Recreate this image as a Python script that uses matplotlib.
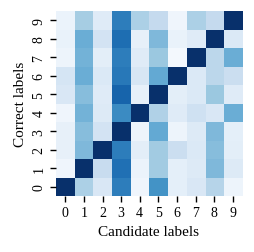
import numpy as np
import matplotlib.pyplot as plt

plt.rcParams['font.family'] = ['Liberation Serif', 'DejaVu Serif']

labels = [str(i) for i in range(10)]

# rows = correct label 0..9, columns = candidate label 0..9
row0 = [1.00, 0.33, 0.15, 0.70, 0.04, 0.62, 0.09, 0.15, 0.30, 0.05]
row1 = [0.04, 1.00, 0.24, 0.75, 0.06, 0.36, 0.09, 0.13, 0.45, 0.13]
row2 = [0.08, 0.45, 1.00, 0.70, 0.10, 0.36, 0.22, 0.14, 0.43, 0.10]
row3 = [0.08, 0.43, 0.18, 1.00, 0.05, 0.52, 0.05, 0.13, 0.45, 0.09]
row4 = [0.04, 0.48, 0.13, 0.65, 1.00, 0.32, 0.12, 0.20, 0.15, 0.50]
row5 = [0.15, 0.43, 0.12, 0.80, 0.08, 1.00, 0.10, 0.14, 0.38, 0.12]
row6 = [0.17, 0.50, 0.14, 0.72, 0.16, 0.52, 1.00, 0.14, 0.28, 0.22]
row7 = [0.05, 0.48, 0.10, 0.70, 0.12, 0.38, 0.02, 1.00, 0.28, 0.50]
row8 = [0.07, 0.50, 0.18, 0.76, 0.08, 0.45, 0.07, 0.12, 1.00, 0.14]
row9 = [0.06, 0.35, 0.12, 0.70, 0.33, 0.25, 0.04, 0.33, 0.25, 1.00]

matrix = np.array([row0, row1, row2, row3, row4, row5, row6, row7, row8, row9])

fig = plt.figure(figsize=(2.54, 2.53), dpi=100)
ax = fig.add_axes([56 / 254, 1 - 197 / 253, 186 / 254, 185 / 253])
ax.imshow(matrix, cmap='Blues', vmin=0, vmax=1, origin='lower', aspect='auto')

ax.set_xticks(range(10))
ax.set_xticklabels(labels, fontsize=10)
ax.set_yticks(range(10))
ax.set_yticklabels(labels, fontsize=10, rotation=90, va='center')
ax.tick_params(length=4, width=1)
for s in ax.spines.values():
    s.set_visible(False)

ax.set_xlabel("Candidate labels", fontsize=11)
ax.set_ylabel("Correct labels", fontsize=11)

plt.savefig("out.png", dpi=100)
